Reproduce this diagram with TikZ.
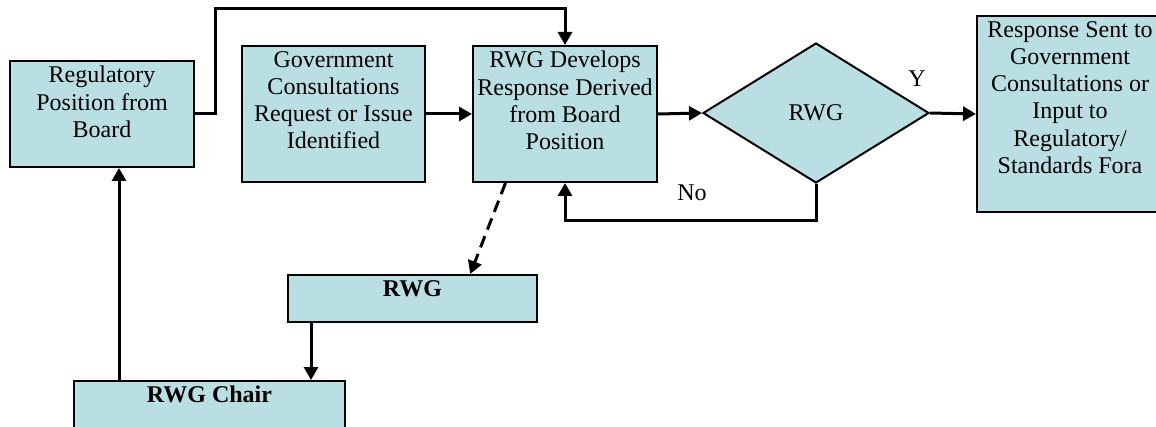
\documentclass[tikz,border=0pt]{standalone}
\usepackage{fontspec}
\setmainfont{Liberation Serif}
\usepackage{xcolor}
\usepackage{tikz}
\definecolor{boxblue}{RGB}{186,223,227}
\usetikzlibrary{shapes.geometric,arrows.meta,calc}

\begin{document}
\begin{tikzpicture}[x=1pt, y=-1pt,
    every node/.style={font=\fontsize{24}{27.3}\selectfont},
    box/.style={draw, fill=boxblue, line width=2pt, inner sep=0pt},
    boxtext/.style={anchor=north, yshift=-6pt, align=center, inner sep=0pt},
    arr/.style={line width=3pt, -{Triangle[length=13pt, width=14pt]}}]
    % frame of the page
    \useasboundingbox (0,0) rectangle (1156,427);
    \fill[white] (0,0) rectangle (1156,427);
    \clip (0,0) rectangle (1156,427);

    % boxes
    \node[box, minimum width=184pt, minimum height=106pt,
        label={[boxtext]north:Regulatory\\Position from\\Board}] (board) at (102,114) {};
    \node[box, minimum width=183pt, minimum height=136pt,
        label={[boxtext]north:Government\\Consultations\\Request or Issue\\Identified}] (gov) at (333.5,114) {};
    \node[box, minimum width=184pt, minimum height=136pt,
        label={[boxtext]north:RWG Develops\\Response Derived\\from Board\\Position}] (dev) at (565,114) {};
    \node[box, diamond, minimum width=226pt, minimum height=140pt] (check) at (816,113) {RWG};
    \node[box, minimum width=186pt, minimum height=196pt,
        label={[boxtext]north:Response Sent to\\Government\\Consultations or\\Input to\\Regulatory/\\Standards Fora}] (resp) at (1070,114) {};
    \node[box, minimum width=249pt, minimum height=47pt,
        label={[boxtext]north:\textbf{RWG}}] (rwg) at (412.5,298.5) {};
    \node[box, minimum width=271pt, minimum height=48pt,
        label={[boxtext]north:\textbf{RWG Chair}}] (chair) at (209.5,405) {};

    % connectors
    \coordinate (over) at (215,9);
    \draw[arr] (board.east) -| (over) -| (dev.north);
    \draw[arr] (gov.east) -- (dev.west);
    \draw[arr] (dev.east) -- (check.west);
    \draw[arr] (check.east) -- (resp.west);
    \draw[arr] (check.south) -- ++(0,37) -| (dev.south);
    \draw[arr, dash pattern=on 12pt off 7pt]
        ($(dev.south west)!0.18!(dev.south east)$) -- ($(rwg.north west)!0.73!(rwg.north east)$);
    \draw[arr] ($(rwg.south west)+(24,0)$) -- ($(chair.north west)+(238,0)$);
    \draw[arr] ($(chair.north west)+(46,0)$) -- ($(board.south west)+(110,0)$);

    % labels
    \node (yes) at (917,79) {Y};
    \node (no) at (692,193) {No};
\end{tikzpicture}
\end{document}
